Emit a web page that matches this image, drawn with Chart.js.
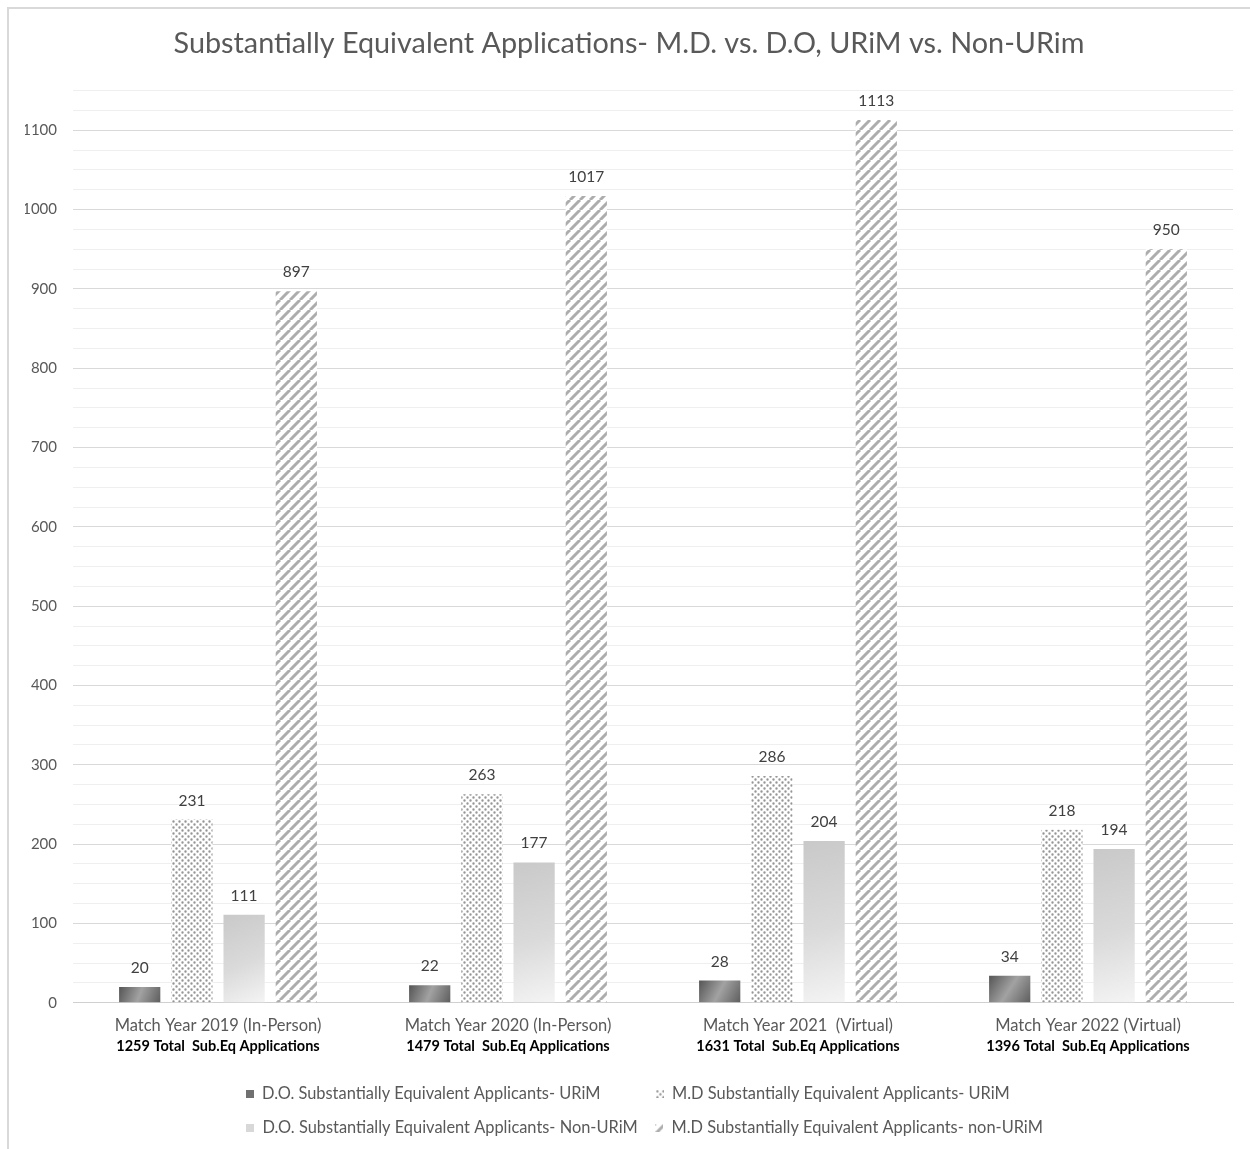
<html>

<head>
    <title>Substantially Equivalent Applications</title>
    <style>
        html,
        body {
            margin: 0;
            background: #fff;
            font-family: Lato, sans-serif;
        }

        #frame {
            position: absolute;
            left: 7px;
            top: 7px;
            width: 1243px;
            height: 1142px;
            border-left: 2px solid #d9d9d9;
            border-top: 2px solid #d9d9d9;
        }

        #box {
            position: absolute;
            left: 10px;
            top: 10px;
            width: 1240px;
            height: 1139px;
        }
    </style>
</head>

<body>
    <div id="frame"></div>
    <div id="box"><canvas id="chart"></canvas></div>

    <script src="https://cdn.jsdelivr.net/npm/chart.js@4.4.1/dist/chart.umd.min.js"></script>
    <script>
        // data
        const categories = ['Match Year 2019 (In-Person)', 'Match Year 2020 (In-Person)', 'Match Year 2021  (Virtual)', 'Match Year 2022 (Virtual)']
        const totals = ['1259 Total  Sub.Eq Applications', '1479 Total  Sub.Eq Applications', '1631 Total  Sub.Eq Applications', '1396 Total  Sub.Eq Applications']
        const seriesNames = [
            'D.O. Substantially Equivalent Applicants- URiM',
            'M.D Substantially Equivalent Applicants- URiM',
            'D.O. Substantially Equivalent Applicants- Non-URiM',
            'M.D Substantially Equivalent Applicants- non-URiM'
        ]
        const doUrim = [20, 22, 28, 34]
        const mdUrim = [231, 263, 286, 218]
        const doNonUrim = [111, 177, 204, 194]
        const mdNonUrim = [897, 1017, 1113, 950]
        const yMax = 1150
        const yMinorStep = 25
        const yMajorStep = 100

        const FONT = 'Lato'
        const grey = '#595959'

        function tile(w, h, draw) {
            const c = document.createElement('canvas')
            c.width = w
            c.height = h
            draw(c.getContext('2d'))
            return c
        }

        const dotTile = tile(6, 6, g => {
            g.fillStyle = '#fff'
            g.fillRect(0, 0, 6, 6)
            g.fillStyle = '#969696'
            g.beginPath()
            g.arc(1.5, 1.5, 1.2, 0, Math.PI * 2)
            g.arc(4.5, 4.5, 1.2, 0, Math.PI * 2)
            g.fill()
        })

        const stripeTile = tile(10, 10, g => {
            g.fillStyle = '#fff'
            g.fillRect(0, 0, 10, 10)
            g.strokeStyle = '#adadad'
            g.lineWidth = 3
            g.beginPath()
            for (const o of [-10, 0, 10]) {
                g.moveTo(o, 10)
                g.lineTo(o + 10, 0)
            }
            g.stroke()
        })

        const tmp = document.createElement('canvas').getContext('2d')
        const dotPattern = tmp.createPattern(dotTile, 'repeat')
        const stripePattern = tmp.createPattern(stripeTile, 'repeat')

        function gradientFill(stops, fallback) {
            return c => {
                const el = c.element
                if (!el || !isFinite(el.x) || !isFinite(el.width) || !isFinite(el.base)) return fallback
                const g = c.chart.ctx.createLinearGradient(el.x - el.width / 2, el.y, el.x + el.width / 2, el.base)
                stops.forEach(s => g.addColorStop(s[0], s[1]))
                return g
            }
        }

        const fills = [
            gradientFill([[0, '#555'], [0.5, '#a2a2a2'], [1, '#5e5e5e']], '#777'),
            dotPattern,
            gradientFill([[0, '#c9c9c9'], [0.55, '#dadada'], [1, '#f4f4f4']], '#d9d9d9'),
            stripePattern
        ]
        const legendFills = ['#707070', dotPattern, '#d8d8d8', stripePattern]

        const markerBox = 8
        const markers = legendFills.map(f => tile(markerBox, 8, g => {
            g.fillStyle = f
            g.fillRect(0, 0, 8, 8)
        }))

        const legendSize = 16.4
        const legendPad = 17.6

        const valueLabels = {
            id: 'valueLabels',
            afterDatasetsDraw(chart) {
                const ctx = chart.ctx
                ctx.save()
                ctx.font = '15.5px ' + FONT
                ctx.fillStyle = '#404040'
                ctx.textAlign = 'center'
                ctx.textBaseline = 'middle'
                chart.data.datasets.forEach((ds, i) => {
                    chart.getDatasetMeta(i).data.forEach((bar, j) => {
                        ctx.fillText(ds.data[j], bar.x, bar.y - 19)
                    })
                })
                ctx.restore()
            }
        }

        const my_chart = new Chart(document.getElementById('chart').getContext('2d'), {
            type: 'bar',
            data: {
                labels: categories,
                datasets: [doUrim, mdUrim, doNonUrim, mdNonUrim].map((d, i) => ({
                    label: seriesNames[i],
                    data: d,
                    backgroundColor: fills[i],
                    borderWidth: 0,
                    categoryPercentage: 0.72,
                    barPercentage: 0.79
                }))
            },
            options: {
                responsive: true,
                maintainAspectRatio: false,
                animation: false,
                layout: {
                    padding: { left: 15, right: 17, top: 0, bottom: 3 }
                },
                scales: {
                    x: {
                        grid: { display: false, drawTicks: false },
                        border: { display: true, color: '#d0d0d0' },
                        ticks: {
                            color: grey,
                            font: { family: FONT, size: 16.5 },
                            padding: 13,
                            maxRotation: 0
                        },
                        afterFit: s => { s.height -= 11 }
                    },
                    x2: {
                        type: 'category',
                        position: 'bottom',
                        labels: totals,
                        weight: 1,
                        grid: { display: false, drawTicks: false },
                        border: { display: false },
                        ticks: {
                            color: '#000',
                            font: { family: FONT, size: 14.5, weight: 'bold' },
                            padding: 0,
                            maxRotation: 0
                        },
                        afterFit: s => { s.height += 13 }
                    },
                    y: {
                        min: 0,
                        max: yMax,
                        border: { display: false },
                        grid: {
                            drawTicks: false,
                            color: c => (c.tick && c.tick.value % yMajorStep === 0) ? '#d9d9d9' : '#efefef'
                        },
                        ticks: {
                            stepSize: yMinorStep,
                            autoSkip: false,
                            color: grey,
                            padding: 16,
                            font: { family: FONT, size: 15 },
                            callback: v => (v % yMajorStep === 0 && v < yMax) ? v : ''
                        },
                        afterFit: s => { s.width = 48 }
                    }
                },
                plugins: {
                    title: {
                        display: true,
                        text: 'Substantially Equivalent Applications- M.D. vs. D.O, URiM vs. Non-URim',
                        color: grey,
                        font: { family: FONT, size: 28.8, weight: 'normal' },
                        padding: { top: 16.5, bottom: 29.5 }
                    },
                    legend: {
                        position: 'bottom',
                        fullSize: false,
                        labels: {
                            color: grey,
                            font: { family: FONT, size: legendSize },
                            usePointStyle: true,
                            pointStyleWidth: markerBox,
                            padding: legendPad,
                            generateLabels(chart) {
                                // pad texts so the two columns line up and only two items fit a row
                                const ctx = chart.ctx
                                ctx.save()
                                ctx.font = legendSize + 'px ' + FONT
                                const w = seriesNames.map(t => ctx.measureText(t).width)
                                const sp = ctx.measureText(' ').width
                                ctx.restore()
                                const col = [Math.max(w[0], w[2]), Math.max(w[1], w[3]) + 16]
                                return seriesNames.map((t, i) => ({
                                    text: t + ' '.repeat(Math.round((col[i % 2] - w[i]) / sp)),
                                    pointStyle: markers[i],
                                    fillStyle: 'transparent',
                                    strokeStyle: 'transparent',
                                    lineWidth: 0,
                                    fontColor: grey,
                                    hidden: false,
                                    datasetIndex: i
                                }))
                            }
                        }
                    },
                    tooltip: { enabled: false }
                }
            },
            plugins: [valueLabels]
        })
        // second pass so the gradients know where each bar sits
        my_chart.update()
    </script>
</body>

</html>
